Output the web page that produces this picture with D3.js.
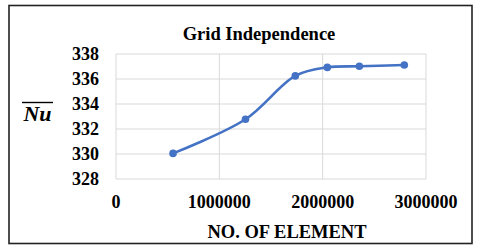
<!DOCTYPE html>
<html>
<head>
<meta charset="utf-8">
<script src="https://cdn.jsdelivr.net/npm/d3@7"></script>
<style>
  body { margin: 0; background: #fff; }
</style>
</head>
<body>
<div id="chart"></div>
<script>

// data
var elements = [552000, 1253000, 1735000, 2045000, 2355000, 2790000];
var nusselt = [330.05, 332.78, 336.25, 336.93, 337.02, 337.12];
var xTicks = [0, 1000000, 2000000, 3000000];
var yTicks = [328, 330, 332, 334, 336, 338];

var width = 480,
    height = 251;

var serif = "'Liberation Serif', 'Times New Roman', serif";

var margin = { left: 116, right: 54, top: 54, bottom: 72 };

var svg = d3.select("#chart").append("svg")
    .attr("width", width)
    .attr("height", height)
    .style("font-family", serif)
    .style("font-weight", "bold");

// outer frame
svg.append("rect")
    .attr("x", 9)
    .attr("y", 5.5)
    .attr("width", 463)
    .attr("height", 238)
    .attr("fill", "#fff")
    .attr("stroke", "#222")
    .attr("stroke-width", 1.6);

var x = d3.scaleLinear()
    .domain([0, 3000000])
    .range([margin.left, width - margin.right]);

var y = d3.scaleLinear()
    .domain([328, 338])
    .range([height - margin.bottom, margin.top]);

// grid
svg.selectAll(".hgrid")
    .data(yTicks)
    .enter().append("line")
    .attr("class", "hgrid")
    .attr("x1", x(0))
    .attr("x2", x(3000000))
    .attr("y1", function (d) { return y(d); })
    .attr("y2", function (d) { return y(d); })
    .attr("stroke", "#d9d9d9")
    .attr("stroke-width", 1);

svg.selectAll(".vgrid")
    .data(xTicks)
    .enter().append("line")
    .attr("class", "vgrid")
    .attr("x1", function (d) { return x(d); })
    .attr("x2", function (d) { return x(d); })
    .attr("y1", y(328))
    .attr("y2", y(338))
    .attr("stroke", "#d9d9d9")
    .attr("stroke-width", 1);

// tick labels
svg.selectAll(".ylab")
    .data(yTicks)
    .enter().append("text")
    .attr("class", "ylab")
    .attr("x", 99)
    .attr("y", function (d) { return y(d) + 6; })
    .attr("text-anchor", "end")
    .style("font-size", "18px")
    .text(function (d) { return d; });

svg.selectAll(".xlab")
    .data(xTicks)
    .enter().append("text")
    .attr("class", "xlab")
    .attr("x", function (d) { return x(d); })
    .attr("y", 208)
    .attr("text-anchor", "middle")
    .style("font-size", "18px")
    .text(function (d) { return d; });

// titles
svg.append("text")
    .attr("x", 259)
    .attr("y", 40)
    .attr("text-anchor", "middle")
    .style("font-size", "18.5px")
    .text("Grid Independence");

svg.append("text")
    .attr("x", 287)
    .attr("y", 238)
    .attr("text-anchor", "middle")
    .style("font-size", "18.5px")
    .text("NO. OF ELEMENT");

svg.append("text")
    .attr("x", 37.5)
    .attr("y", 121)
    .attr("text-anchor", "middle")
    .style("font-size", "22px")
    .style("font-style", "italic")
    .text("Nu");

svg.append("line")
    .attr("x1", 22)
    .attr("x2", 53)
    .attr("y1", 102.5)
    .attr("y2", 102.5)
    .attr("stroke", "#000")
    .attr("stroke-width", 1.4);

// series
var points = elements.map(function (d, i) { return [d, nusselt[i]]; });

var line = d3.line()
    .x(function (d) { return x(d[0]); })
    .y(function (d) { return y(d[1]); })
    .curve(d3.curveCatmullRom.alpha(0.5));

svg.append("path")
    .datum(points)
    .attr("d", line)
    .attr("fill", "none")
    .attr("stroke", "#4472c4")
    .attr("stroke-width", 2.6)
    .attr("stroke-linecap", "round");

svg.selectAll(".dot")
    .data(points)
    .enter().append("circle")
    .attr("class", "dot")
    .attr("cx", function (d) { return x(d[0]); })
    .attr("cy", function (d) { return y(d[1]); })
    .attr("r", 3.8)
    .attr("fill", "#4472c4");

</script>
</body>
</html>
